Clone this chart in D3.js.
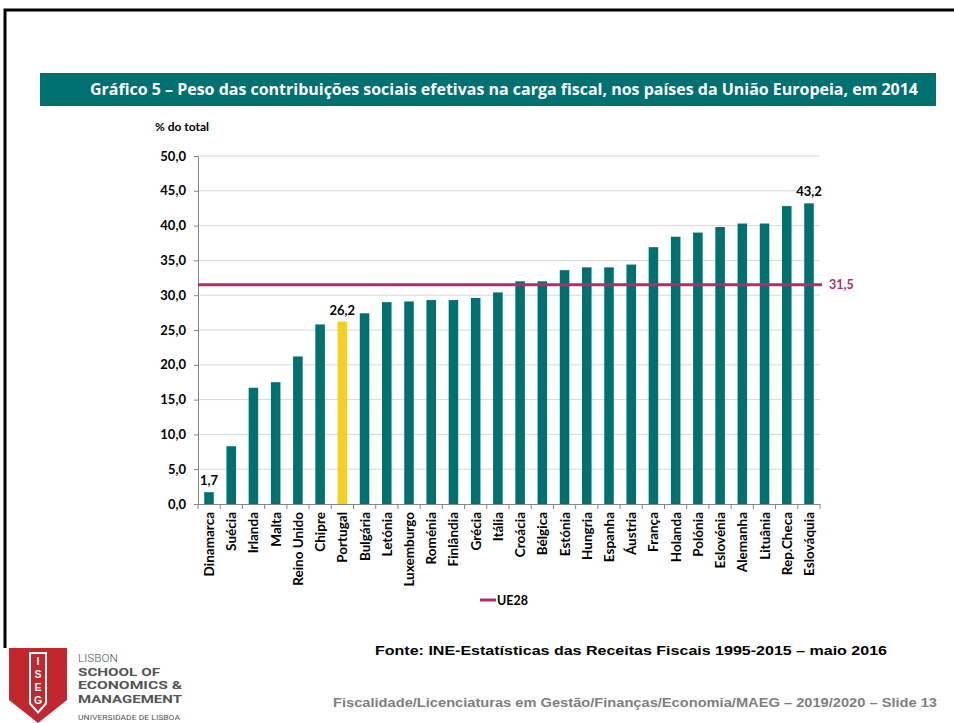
<!DOCTYPE html>
<html>
<head>
<meta charset="utf-8">
<script src="https://cdn.jsdelivr.net/npm/d3@7"></script>
<style>
  body { margin: 0; background: #fff; }
  svg { display: block; }
</style>
</head>
<body>
<svg id="chart" width="954" height="723" viewBox="0 0 954 723"></svg>
<script>
// Data
const countries = ["Dinamarca", "Suécia", "Irlanda", "Malta", "Reino Unido", "Chipre", "Portugal",
  "Bulgária", "Letónia", "Luxemburgo", "Roménia", "Finlândia", "Grécia", "Itália", "Croácia",
  "Bélgica", "Estónia", "Hungria", "Espanha", "Áustria", "França", "Holanda", "Polónia",
  "Eslovénia", "Alemanha", "Lituânia", "Rep.Checa", "Eslováquia"];
const values = [1.7, 8.3, 16.7, 17.5, 21.2, 25.8, 26.2, 27.4, 29.0, 29.1, 29.3, 29.3, 29.6, 30.4,
  32.0, 32.0, 33.6, 34.0, 34.0, 34.4, 36.9, 38.4, 39.0, 39.8, 40.3, 40.3, 42.8, 43.2];
const labelled = ["Dinamarca", "Portugal", "Eslováquia"];
const ue28 = 31.5;
const yTicks = [0, 5, 10, 15, 20, 25, 30, 35, 40, 45, 50];

const svg = d3.select("#chart");
const fmt = v => d3.format(".1f")(v).replace(".", ",");
const chartFont = "Lato, 'Open Sans', sans-serif";

// slide frame
svg.append("path")
    .attr("d", "M5,648 V10 H954")
    .attr("fill", "none")
    .attr("stroke", "#000")
    .attr("stroke-width", 3);

// title banner
svg.append("rect")
    .attr("x", 40).attr("y", 73)
    .attr("width", 896).attr("height", 33)
    .attr("fill", "#007171");
svg.append("text")
    .attr("x", 90).attr("y", 95)
    .attr("textLength", 828)
    .attr("lengthAdjust", "spacingAndGlyphs")
    .attr("fill", "#fff")
    .style("font-family", "'Open Sans', sans-serif")
    .style("font-size", "16px")
    .style("font-weight", "bold")
    .text("Gráfico 5 – Peso das contribuições sociais efetivas na carga fiscal, nos países da União Europeia, em 2014");

// chart area
const x = d3.scaleBand()
    .domain(countries)
    .range([198, 820])
    .paddingInner(0.57)
    .paddingOuter(0.28);
const y = d3.scaleLinear()
    .domain([0, 50])
    .range([504, 156]);

// gridlines
svg.append("g")
    .selectAll("line")
    .data(yTicks.slice(1))
    .enter()
    .append("line")
    .attr("x1", 198).attr("x2", 820)
    .attr("y1", d => y(d)).attr("y2", d => y(d))
    .attr("stroke", "#D9D9D9")
    .attr("stroke-width", 1);

// y axis
const yAxis = svg.append("g")
    .attr("transform", "translate(198,0)")
    .call(d3.axisLeft(y).tickValues(yTicks).tickFormat(fmt).tickSize(4).tickPadding(8));
yAxis.select(".domain").attr("stroke", "#868686");
yAxis.selectAll(".tick line").attr("stroke", "#868686");
yAxis.selectAll("text")
    .attr("fill", "#000")
    .style("font-family", chartFont)
    .style("font-size", "13px")
    .style("font-weight", "bold");

svg.append("text")
    .attr("x", 155).attr("y", 131)
    .style("font-family", chartFont)
    .style("font-size", "12px")
    .style("font-weight", "bold")
    .text("% do total");

// bars
svg.append("g")
    .selectAll("rect")
    .data(countries)
    .enter()
    .append("rect")
    .attr("x", d => x(d))
    .attr("width", x.bandwidth())
    .attr("y", (d, i) => y(values[i]))
    .attr("height", (d, i) => y(0) - y(values[i]))
    .attr("fill", d => d === "Portugal" ? "#F6D11C" : "#007171");

// x axis line with ticks between categories
const xAxis = svg.append("g");
xAxis.append("line")
    .attr("x1", 198).attr("x2", 820)
    .attr("y1", 504.5).attr("y2", 504.5)
    .attr("stroke", "#868686");
xAxis.selectAll(".xt")
    .data(d3.range(countries.length + 1))
    .enter()
    .append("line")
    .attr("x1", i => 198 + i * (622 / countries.length))
    .attr("x2", i => 198 + i * (622 / countries.length))
    .attr("y1", 504).attr("y2", 509)
    .attr("stroke", "#868686");

// category labels
svg.append("g")
    .selectAll("text")
    .data(countries)
    .enter()
    .append("text")
    .attr("transform", d => `translate(${x(d) + x.bandwidth() / 2 + 5},512) rotate(-90)`)
    .attr("text-anchor", "end")
    .style("font-family", chartFont)
    .style("font-size", "13.5px")
    .style("font-weight", "bold")
    .text(d => d);

// value labels
svg.append("g")
    .selectAll("text")
    .data(countries.filter(c => labelled.includes(c)))
    .enter()
    .append("text")
    .attr("x", d => x(d) + x.bandwidth() / 2)
    .attr("y", d => y(values[countries.indexOf(d)]) - 7)
    .attr("text-anchor", "middle")
    .style("font-family", chartFont)
    .style("font-size", "13px")
    .style("font-weight", "bold")
    .text(d => fmt(values[countries.indexOf(d)]));

// UE28 reference line
svg.append("line")
    .attr("x1", 198).attr("x2", 822)
    .attr("y1", y(ue28)).attr("y2", y(ue28))
    .attr("stroke", "#B42B6E")
    .attr("stroke-width", 3);
svg.append("text")
    .attr("x", 829).attr("y", y(ue28) + 4)
    .attr("fill", "#B42B6E")
    .style("font-family", chartFont)
    .style("font-size", "12.5px")
    .style("font-weight", "bold")
    .text(fmt(ue28));

// legend
svg.append("line")
    .attr("x1", 480).attr("x2", 496)
    .attr("y1", 600).attr("y2", 600)
    .attr("stroke", "#B42B6E")
    .attr("stroke-width", 3);
svg.append("text")
    .attr("x", 497).attr("y", 605)
    .style("font-family", chartFont)
    .style("font-size", "12.5px")
    .style("font-weight", "bold")
    .text("UE28");

// source and footer
svg.append("text")
    .attr("x", 375).attr("y", 655)
    .attr("textLength", 512)
    .attr("lengthAdjust", "spacingAndGlyphs")
    .style("font-family", "'Liberation Sans', Arial, sans-serif")
    .style("font-size", "13px")
    .style("font-weight", "bold")
    .text("Fonte: INE-Estatísticas das Receitas Fiscais 1995-2015 – maio 2016");
svg.append("text")
    .attr("x", 333).attr("y", 707)
    .attr("textLength", 604)
    .attr("lengthAdjust", "spacingAndGlyphs")
    .attr("fill", "#7F7F7F")
    .style("font-family", "'Liberation Sans', Arial, sans-serif")
    .style("font-size", "12px")
    .style("font-weight", "bold")
    .text("Fiscalidade/Licenciaturas em Gestão/Finanças/Economia/MAEG – 2019/2020 – Slide 13");

// ISEG logo
const logo = svg.append("g");
logo.append("path")
    .attr("d", "M9,648 H67 V700 L38,723 L9,700 Z")
    .attr("fill", "#C1272D");
logo.append("path")
    .attr("d", "M29,652 H47 V704 L38,714 L29,704 Z")
    .attr("fill", "#fff");
logo.append("path")
    .attr("d", "M31,654 H45 V703 L38,711 L31,703 Z")
    .attr("fill", "#C1272D");
["I", "S", "E", "G"].forEach((ch, i) => {
    logo.append("text")
        .attr("x", 38).attr("y", 665 + i * 13)
        .attr("text-anchor", "middle")
        .attr("fill", "#fff")
        .style("font-family", "'Liberation Sans', Arial, sans-serif")
        .style("font-size", "10.5px")
        .style("font-weight", "bold")
        .text(ch);
});
const logoText = [
    { t: "LISBON", y: 662, w: "300", s: 11, len: 40 },
    { t: "SCHOOL OF", y: 675.5, w: "700", s: 11, len: 82 },
    { t: "ECONOMICS &", y: 689, w: "700", s: 11, len: 104 },
    { t: "MANAGEMENT", y: 702.5, w: "700", s: 11, len: 104 },
    { t: "UNIVERSIDADE DE LISBOA", y: 720, w: "400", s: 7, len: 102 }
];
logoText.forEach(d => {
    logo.append("text")
        .attr("x", 78).attr("y", d.y)
        .attr("fill", "#555")
        .attr("textLength", d.len)
        .attr("lengthAdjust", "spacingAndGlyphs")
        .style("font-family", "'Roboto', sans-serif")
        .style("font-size", d.s + "px")
        .style("font-weight", d.w)
        .text(d.t);
});
</script>
</body>
</html>
